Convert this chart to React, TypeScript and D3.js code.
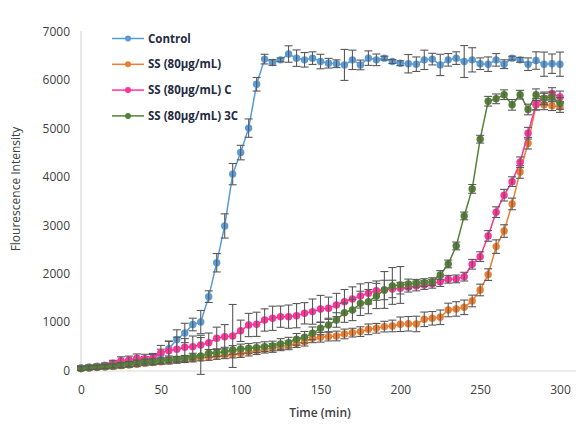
import React, { useEffect, useRef } from "react";
import * as d3 from "d3";

const times = [0, 5, 10, 15, 20, 25, 30, 35, 40, 45, 50, 55, 60, 65, 70, 75, 80, 85, 90, 95, 100,
  105, 110, 115, 120, 125, 130, 135, 140, 145, 150, 155, 160, 165, 170, 175, 180, 185, 190, 195, 200,
  205, 210, 215, 220, 225, 230, 235, 240, 245, 250, 255, 260, 265, 270, 275, 280, 285, 290, 295, 300];

const seriesNames = ["Control", "SS (80µg/mL)", "SS (80µg/mL) C", "SS (80µg/mL) 3C"];
const seriesColors = ["#5B9BD5", "#ED7D31", "#FF3399", "#548235"];

const control = [60, 75, 90, 110, 130, 150, 175, 200, 230, 260, 340, 450, 640, 775, 950, 1000, 1525, 2225, 2985, 4055, 4500,
  5005, 5910, 6430, 6360, 6415, 6535, 6450, 6415, 6450, 6380, 6345, 6335, 6310, 6415, 6310, 6450, 6415, 6450, 6380, 6345,
  6335, 6325, 6415, 6430, 6310, 6415, 6450, 6380, 6415, 6335, 6325, 6415, 6325, 6450, 6415, 6325, 6400, 6325, 6335, 6325];
const controlErr = [40, 40, 40, 40, 50, 50, 50, 60, 60, 70, 100, 150, 200, 200, 130, 240, 120, 190, 250, 220, 150,
  190, 140, 100, 60, 40, 170, 170, 150, 130, 150, 100, 80, 320, 200, 100, 150, 120, 40, 40, 50,
  190, 150, 200, 120, 220, 130, 130, 330, 250, 120, 150, 130, 90, 40, 50, 130, 180, 250, 200, 250];

const ss = [40, 50, 60, 70, 85, 100, 115, 130, 150, 165, 180, 195, 210, 225, 240, 260, 280, 300, 315, 330, 350,
  380, 410, 440, 465, 490, 520, 555, 596, 665, 686, 700, 713, 755, 782, 803, 851, 872, 906, 920, 955,
  965, 961, 1057, 1078, 1099, 1250, 1271, 1305, 1436, 1663, 1980, 2558, 2880, 3440, 4100, 4694, 5480, 5486, 5468, 5440];
const ssErr = [40, 40, 40, 40, 50, 50, 50, 50, 50, 50, 50, 60, 60, 60, 60, 60, 70, 70, 70, 70, 80,
  80, 80, 80, 90, 80, 90, 80, 90, 90, 100, 90, 100, 100, 90, 100, 110, 100, 110, 120, 150,
  150, 160, 150, 140, 150, 140, 150, 150, 120, 120, 120, 140, 130, 120, 130, 120, 100, 100, 100, 110];

const ssC = [40, 60, 80, 100, 150, 203, 217, 252, 245, 252, 368, 409, 438, 479, 492, 527, 574, 665, 698, 713, 820,
  940, 954, 1043, 1078, 1112, 1112, 1132, 1181, 1216, 1271, 1285, 1353, 1422, 1477, 1539, 1594, 1649, 1663, 1684, 1700,
  1720, 1744, 1765, 1790, 1835, 1884, 1891, 1938, 2194, 2351, 2779, 3270, 3620, 3900, 4300, 4900, 5500, 5620, 5720, 5650];
const ssCErr = [40, 40, 40, 50, 60, 80, 80, 90, 90, 100, 150, 200, 250, 180, 220, 200, 200, 230, 250, 650, 220,
  240, 250, 230, 250, 220, 240, 250, 220, 260, 280, 230, 240, 250, 250, 250, 220, 200, 200, 180, 120,
  100, 100, 90, 90, 100, 80, 80, 90, 100, 100, 110, 110, 120, 100, 110, 120, 120, 130, 120, 120];

const ss3C = [40, 58, 66, 79, 93, 114, 134, 161, 182, 182, 203, 217, 231, 251, 286, 300, 355, 368, 389, 424, 445,
  458, 472, 493, 506, 548, 575, 644, 686, 768, 871, 940, 1043, 1195, 1250, 1387, 1422, 1539, 1663, 1746, 1766,
  1787, 1801, 1815, 1835, 1973, 2200, 2572, 3192, 3750, 4776, 5560, 5610, 5695, 5486, 5695, 5390, 5695, 5624, 5650, 5515];
const ss3CErr = [40, 40, 40, 40, 40, 50, 50, 50, 50, 60, 60, 60, 60, 60, 70, 380, 80, 80, 90, 90, 100,
  100, 100, 100, 100, 110, 110, 120, 120, 130, 130, 140, 150, 200, 220, 250, 250, 260, 380, 380, 380,
  100, 80, 80, 80, 90, 80, 80, 80, 90, 80, 100, 100, 100, 110, 90, 110, 120, 100, 100, 120];

const xTicks = [0, 50, 100, 150, 200, 250, 300];
const yTicks = [0, 1000, 2000, 3000, 4000, 5000, 6000, 7000];

const font = "'Open Sans', 'Noto Sans', sans-serif";

export default function App() {
  const ref = useRef<SVGSVGElement | null>(null);

  useEffect(() => {
    const svg = d3.select(ref.current);
    svg.selectAll("*").remove();

    const x = d3.scaleLinear().domain([0, 300]).range([81, 560]);
    const y = d3.scaleLinear().domain([0, 7000]).range([370.5, 31.5]);

    // axis lines (Excel style, light grey)
    svg.append("line").attr("x1", 81).attr("x2", 576).attr("y1", 371).attr("y2", 371)
      .attr("stroke", "#D9D9D9").attr("stroke-width", 1.2);
    svg.append("line").attr("x1", 81).attr("x2", 81).attr("y1", 31).attr("y2", 371)
      .attr("stroke", "#D9D9D9").attr("stroke-width", 1.2);

    const yAxis = svg.append("g").attr("transform", "translate(81,0)")
      .call(d3.axisLeft(y).tickValues(yTicks).tickSize(0).tickPadding(11).tickFormat(d3.format("d")));
    yAxis.select(".domain").remove();
    yAxis.selectAll("text").attr("font-size", 12).attr("font-family", font).attr("fill", "#404040");

    const xAxis = svg.append("g").attr("transform", "translate(0,371)")
      .call(d3.axisBottom(x).tickValues(xTicks).tickSize(0).tickPadding(14).tickFormat(d3.format("d")));
    xAxis.select(".domain").remove();
    xAxis.selectAll("text").attr("font-size", 12).attr("font-family", font).attr("fill", "#404040");

    svg.append("text").attr("x", 320).attr("y", 417).attr("text-anchor", "middle")
      .attr("font-size", 12).attr("font-family", font).attr("font-weight", 600).attr("fill", "#404040")
      .text("Time (min)");
    svg.append("text").attr("transform", "translate(20,189) rotate(-90)").attr("text-anchor", "middle")
      .attr("font-size", 12).attr("font-family", font).attr("fill", "#404040")
      .text("Flourescence Intensity");

    const allSeries = [
      { vals: control, errs: controlErr },
      { vals: ss, errs: ssErr },
      { vals: ssC, errs: ssCErr },
      { vals: ss3C, errs: ss3CErr },
    ];

    const line = d3.line<number>().x((d, i) => x(times[i])).y(d => y(d));

    allSeries.forEach((s, k) => {
      const g = svg.append("g");
      g.append("path").attr("d", line(s.vals)).attr("fill", "none")
        .attr("stroke", seriesColors[k]).attr("stroke-width", 1.5);
      g.selectAll("circle").data(s.vals).join("circle")
        .attr("cx", (d, i) => x(times[i])).attr("cy", d => y(d)).attr("r", 3.7)
        .attr("fill", seriesColors[k]);
      const eb = g.append("g").attr("stroke", "#595959").attr("stroke-width", 1.1);
      s.vals.forEach((v, i) => {
        const cx = x(times[i]);
        const top = y(v + s.errs[i]);
        const bot = y(v - s.errs[i]);
        eb.append("line").attr("x1", cx).attr("x2", cx).attr("y1", top).attr("y2", bot);
        eb.append("line").attr("x1", cx - 4).attr("x2", cx + 4).attr("y1", top).attr("y2", top);
        eb.append("line").attr("x1", cx - 4).attr("x2", cx + 4).attr("y1", bot).attr("y2", bot);
      });
    });

    // legend
    const legend = svg.append("g");
    seriesNames.forEach((name, k) => {
      const ly = 38.5 + k * 25.8;
      legend.append("line").attr("x1", 112).attr("x2", 144).attr("y1", ly).attr("y2", ly)
        .attr("stroke", seriesColors[k]).attr("stroke-width", 1.5);
      legend.append("circle").attr("cx", 128).attr("cy", ly).attr("r", 3).attr("fill", seriesColors[k]);
      legend.append("text").attr("x", 148).attr("y", ly).attr("dy", "0.35em")
        .attr("font-size", 11.5).attr("font-family", font).attr("font-weight", 700).attr("fill", "#1F2A44")
        .text(name);
    });
  }, []);

  return (
    <svg ref={ref} width={576} height={432}
      style={{ position: "absolute", left: 0, top: 0, background: "#fff" }} />
  );
}
